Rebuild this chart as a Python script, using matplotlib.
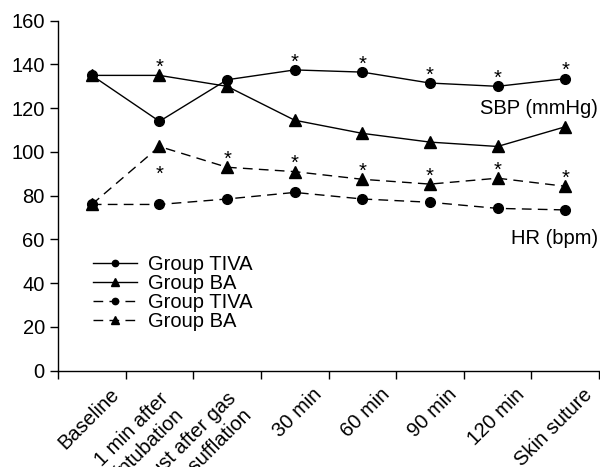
import matplotlib
matplotlib.use("Agg")
import matplotlib.pyplot as plt
import matplotlib.transforms as mtransforms
import numpy as np

plt.rcParams['font.family'] = ['Liberation Sans', 'DejaVu Sans']

categories = ["Baseline", "1 min after\nintubation", "Just after gas\ninsufflation",
              "30 min", "60 min", "90 min", "120 min", "Skin suture"]
sbp_tiva = [135, 114, 133, 137.5, 136.5, 131.5, 130, 133.5]
sbp_ba = [135, 135, 130, 114.5, 108.5, 104.5, 102.5, 111.5]
hr_tiva = [76, 76, 78.5, 81.5, 78.5, 77, 74.2, 73.5]
hr_ba = [76, 102.5, 93, 91, 87.5, 85.3, 88, 84.3]
# asterisks: category index, the series they mark, above (+1) / below (-1)
sbp_star_idx = [1, 3, 4, 5, 6, 7]
sbp_star_ref = [sbp_ba[1], sbp_tiva[3], sbp_tiva[4], sbp_tiva[5], sbp_tiva[6], sbp_tiva[7]]
hr_star_idx = [1, 2, 3, 4, 5, 6, 7]
hr_star_ref = [hr_ba[1], hr_ba[2], hr_ba[3], hr_ba[4], hr_ba[5], hr_ba[6], hr_ba[7]]
hr_star_dir = [-1, 1, 1, 1, 1, 1, 1]
yticks = [0, 20, 40, 60, 80, 100, 120, 140, 160]

FS = 14.5
fig = plt.figure(figsize=(6, 4.67), dpi=100)
ax = fig.add_axes([58/600, 1 - 370.7/467, (599-58)/600, (370.7-20.7)/467])
x = np.arange(len(categories))
dash = (0, (7, 4.5))
lw = 1.0
ax.plot(x, sbp_tiva, '-', color='black', lw=lw, marker='o', ms=7, label='Group TIVA')
ax.plot(x, sbp_ba, '-', color='black', lw=lw, marker='^', ms=8, label='Group BA')
ax.plot(x, hr_tiva, linestyle=dash, color='black', lw=lw, marker='o', ms=7, label='Group TIVA')
ax.plot(x, hr_ba, linestyle=dash, color='black', lw=lw, marker='^', ms=8, label='Group BA')

def star(i, v, d):
    off = 1.7 if d > 0 else -24
    ax.annotate('*', (x[i], v), xytext=(0, off), textcoords='offset points',
                ha='center', va='baseline', fontsize=FS)

for i, v in zip(sbp_star_idx, sbp_star_ref):
    star(i, v, 1)
for i, v, d in zip(hr_star_idx, hr_star_ref, hr_star_dir):
    star(i, v, d)

ax.text(7.48, 120, 'SBP (mmHg)', ha='right', va='center', fontsize=FS)
ax.text(7.48, 60.5, 'HR (bpm)', ha='right', va='center', fontsize=FS)

ax.set_xlim(-0.5, 7.5)
ax.set_ylim(0, 160)
ax.set_yticks(yticks)
ax.set_xticks(np.arange(-0.5, 8, 1))
ax.set_xticklabels([])
ax.set_xticks(x, minor=True)
ax.set_xticklabels(categories, minor=True, rotation=45, ha='right', va='center',
                   rotation_mode='anchor', fontsize=FS)
ax.tick_params(axis='x', which='minor', length=0, pad=0)
ax.tick_params(axis='x', which='major', direction='out', length=5.5, width=1)
ax.tick_params(axis='y', direction='out', length=5.5, width=1, labelsize=FS, pad=4)
for lab, cat in zip(ax.get_xticklabels(minor=True), categories):
    if '\n' in cat:
        dx, dy = 13.5, 33
    else:
        dx, dy = 24, 21
    lab.set_transform(lab.get_transform() +
                      mtransforms.ScaledTranslation(dx/100, -dy/100, fig.dpi_scale_trans))
for s in ['top', 'right']:
    ax.spines[s].set_visible(False)
for s in ['left', 'bottom']:
    ax.spines[s].set_linewidth(1)

ax.legend(loc='upper left', bbox_to_anchor=(0.065, 0.33), frameon=False, fontsize=FS,
          handlelength=2.19, handletextpad=0.55, labelspacing=0.0, markerscale=0.65,
          borderpad=0, borderaxespad=0)

fig.savefig('out.png', dpi=100)
